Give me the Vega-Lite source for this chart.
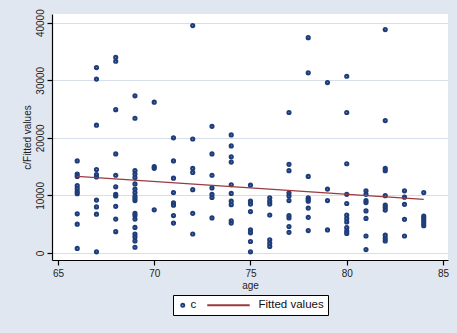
{
  "$schema": "https://vega.github.io/schema/vega-lite/v6.json",
  "width": 396,
  "height": 246,
  "autosize": {"type": "none"},
  "padding": {"left": 52, "top": 14, "right": 9, "bottom": 73},
  "background": "#e1e7f1",
  "config": {
    "view": {"fill": "white", "stroke": null},
    "font": "Liberation Sans",
    "axis": {"labelFont": "Liberation Sans", "titleFont": "Liberation Sans", "labelColor": "#222", "titleColor": "#222", "titleFontWeight": "normal", "labelFontSize": 10, "titleFontSize": 10, "domainColor": "black", "tickColor": "black", "domainWidth": 1.2, "tickWidth": 1.2, "tickSize": 5},
    "legend": {"labelFont": "Liberation Sans", "labelFontSize": 11.5, "labelColor": "#111"}
  },
  "datasets": {
    "obs": [
      {"age":66,"c":16000},{"age":66,"c":13700},{"age":66,"c":13300},{"age":66,"c":11700},{"age":66,"c":11200},{"age":66,"c":10700},{"age":66,"c":10300},{"age":66,"c":6800},{"age":66,"c":5000},{"age":66,"c":800},
      {"age":67,"c":32200},{"age":67,"c":30200},{"age":67,"c":22200},{"age":67,"c":14500},{"age":67,"c":13600},{"age":67,"c":13200},{"age":67,"c":9200},{"age":67,"c":8000},{"age":67,"c":6750},{"age":67,"c":200},
      {"age":68,"c":34000},{"age":68,"c":33300},{"age":68,"c":24900},{"age":68,"c":17200},{"age":68,"c":13500},{"age":68,"c":11500},{"age":68,"c":10200},{"age":68,"c":9900},{"age":68,"c":8100},{"age":68,"c":5900},{"age":68,"c":3700},
      {"age":69,"c":27300},{"age":69,"c":23400},{"age":69,"c":14300},{"age":69,"c":13700},{"age":69,"c":13100},{"age":69,"c":12000},{"age":69,"c":11100},{"age":69,"c":10500},{"age":69,"c":9900},{"age":69,"c":9500},{"age":69,"c":9100},{"age":69,"c":6900},{"age":69,"c":6500},{"age":69,"c":5900},{"age":69,"c":4450},{"age":69,"c":3300},{"age":69,"c":2800},{"age":69,"c":2100},{"age":69,"c":1000},
      {"age":70,"c":26200},{"age":70,"c":15000},{"age":70,"c":14700},{"age":70,"c":7500},
      {"age":71,"c":20000},{"age":71,"c":16000},{"age":71,"c":13000},{"age":71,"c":10500},{"age":71,"c":8700},{"age":71,"c":8300},{"age":71,"c":6500},{"age":71,"c":5200},
      {"age":72,"c":39500},{"age":72,"c":19800},{"age":72,"c":14700},{"age":72,"c":14000},{"age":72,"c":11000},{"age":72,"c":6900},{"age":72,"c":3300},
      {"age":73,"c":22000},{"age":73,"c":17200},{"age":73,"c":13500},{"age":73,"c":11300},{"age":73,"c":10200},{"age":73,"c":9650},{"age":73,"c":6100},
      {"age":74,"c":20500},{"age":74,"c":18600},{"age":74,"c":16700},{"age":74,"c":15800},{"age":74,"c":11850},{"age":74,"c":10350},{"age":74,"c":9000},{"age":74,"c":8400},{"age":74,"c":5600},{"age":74,"c":5200},
      {"age":75,"c":11800},{"age":75,"c":9000},{"age":75,"c":8500},{"age":75,"c":7200},{"age":75,"c":4000},{"age":75,"c":3500},{"age":75,"c":2000},{"age":75,"c":200},
      {"age":76,"c":9600},{"age":76,"c":9000},{"age":76,"c":8500},{"age":76,"c":6600},{"age":76,"c":2300},{"age":76,"c":1700},{"age":76,"c":1150},
      {"age":77,"c":24400},{"age":77,"c":15400},{"age":77,"c":14300},{"age":77,"c":10400},{"age":77,"c":9900},{"age":77,"c":9100},{"age":77,"c":6500},{"age":77,"c":6100},{"age":77,"c":4600},{"age":77,"c":3600},
      {"age":78,"c":37400},{"age":78,"c":31300},{"age":78,"c":13300},{"age":78,"c":9600},{"age":78,"c":9300},{"age":78,"c":9000},{"age":78,"c":7800},{"age":78,"c":6200},{"age":78,"c":3900},
      {"age":79,"c":29600},{"age":79,"c":11100},{"age":79,"c":9100},{"age":79,"c":4000},
      {"age":80,"c":30700},{"age":80,"c":24400},{"age":80,"c":15500},{"age":80,"c":10200},{"age":80,"c":8600},{"age":80,"c":6600},{"age":80,"c":6000},{"age":80,"c":5400},{"age":80,"c":4400},{"age":80,"c":3800},{"age":80,"c":3400},
      {"age":81,"c":10800},{"age":81,"c":10200},{"age":81,"c":9100},{"age":81,"c":8750},{"age":81,"c":7300},{"age":81,"c":6000},{"age":81,"c":2950},{"age":81,"c":600},
      {"age":82,"c":38800},{"age":82,"c":23000},{"age":82,"c":14700},{"age":82,"c":14300},{"age":82,"c":9950},{"age":82,"c":8300},{"age":82,"c":7900},{"age":82,"c":7450},{"age":82,"c":3100},{"age":82,"c":2550},{"age":82,"c":2100},
      {"age":83,"c":10800},{"age":83,"c":9700},{"age":83,"c":8450},{"age":83,"c":5850},{"age":83,"c":2950},
      {"age":84,"c":10500},{"age":84,"c":6400},{"age":84,"c":6000},{"age":84,"c":5600},{"age":84,"c":5150},{"age":84,"c":4750}
    ],
    "fit": [
      {"age":66,"fitted":13300},{"age":84,"fitted":9300}
    ]
  },
  "encoding": {
    "x": {"field": "age", "type": "quantitative", "title": "age",
      "scale": {"domain": [64.69, 85.26], "nice": false, "zero": false},
      "axis": {"values": [65,70,75,80,85], "grid": false, "labelPadding": 3, "titlePadding": 2}}
  },
  "layer": [
    {
      "data": {"name": "obs"},
      "transform": [{"calculate": "'c'", "as": "series"}],
      "mark": {"type": "point", "filled": false, "size": 9, "strokeWidth": 2.2, "opacity": 1},
      "encoding": {
        "y": {"field": "c", "type": "quantitative", "title": "c/Fitted values",
          "scale": {"domain": [-1215, 41510], "nice": false, "zero": false},
          "axis": {"values": [0,10000,20000,30000,40000], "format": "d", "grid": true, "gridColor": "#d6deea", "gridWidth": 1.2, "labelAngle": -90, "labelAlign": "center", "labelBaseline": "bottom", "labelPadding": 2, "titlePadding": 3}},
        "color": {"field": "series", "type": "nominal",
          "scale": {"domain": ["c", "Fitted values"], "range": ["#1f3d7a", "#9a3a40"]},
          "legend": {"title": null, "orient": "none", "legendX": 121, "legendY": 281, "direction": "horizontal", "strokeColor": "black", "fillColor": "white", "padding": 4, "symbolSize": 9, "symbolStrokeWidth": 2, "columnPadding": 6, "labelOffset": 2}},
        "shape": {"field": "series", "type": "nominal",
          "scale": {"domain": ["c", "Fitted values"], "range": ["circle", "M-29,0L-0.7,0"]},
          "legend": {"title": null, "orient": "none", "legendX": 121, "legendY": 281, "direction": "horizontal", "strokeColor": "black", "fillColor": "white", "padding": 4, "symbolSize": 9, "symbolStrokeWidth": 2, "columnPadding": 6, "labelOffset": 2}}
      }
    },
    {
      "data": {"name": "fit"},
      "mark": {"type": "line", "color": "#9a3a40", "strokeWidth": 1.3},
      "encoding": {
        "y": {"field": "fitted", "type": "quantitative"}
      }
    }
  ]
}
